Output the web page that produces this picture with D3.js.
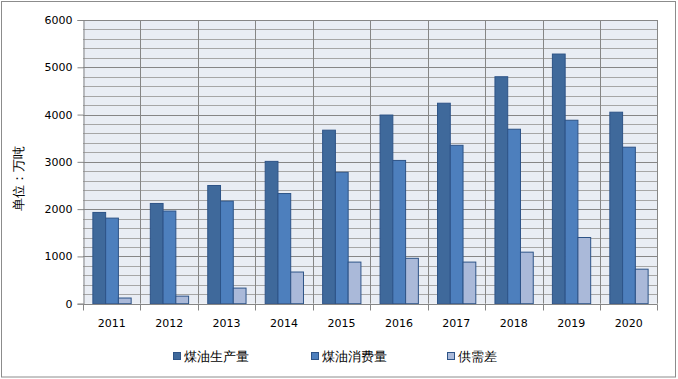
<!DOCTYPE html>
<html><head><meta charset="utf-8">
<script src="https://cdn.jsdelivr.net/npm/d3@7"></script>
<style>
html,body{margin:0;padding:0;background:#fff;}
svg{display:block;}
text{font-family:"DejaVu Sans",Verdana,sans-serif;}
</style></head>
<body>
<script>
const categories = ["2011","2012","2013","2014","2015","2016","2017","2018","2019","2020"];
const seriesNames = ["煤油生产量","煤油消费量","供需差"];
const production = [1930,2120,2500,3010,3670,3990,4240,4800,5280,4050];
const consumption = [1810,1960,2170,2330,2780,3030,3350,3690,3880,3310];
const gap = [120,160,330,670,880,960,880,1090,1400,730];
const yTicks = [0,1000,2000,3000,4000,5000,6000];
const yTitle = "单位：万吨";
const colors = ["#3F699B","#4D7FBD","#AAB9D9"];

const W = 678, H = 379;
const m = {left:83, right:678-657.4, top:20, bottom:379-303.7};
const svg = d3.select("body").append("svg").attr("width",W).attr("height",H);

svg.append("rect").attr("x",1.5).attr("y",1.5).attr("width",W-4).attr("height",H-3.5)
  .attr("fill","#fff").attr("stroke","#8C8C8C").attr("stroke-width",1);

const x0 = d3.scaleBand().domain(categories).range([m.left, W-m.right]).padding(0);
const bw = x0.bandwidth();
const gw = bw*3/4.5;
const x1 = d3.scaleBand().domain(d3.range(3)).range([(bw-gw)/2+0.3, (bw-gw)/2+0.3+gw]).padding(0);
const y = d3.scaleLinear().domain([0,6000]).range([H-m.bottom, m.top]);

const g = svg.append("g");
g.append("rect").attr("x",m.left).attr("y",m.top).attr("width",W-m.left-m.right).attr("height",y(0)-m.top).attr("fill","#E9EDF4");

// minor gridlines
const minor = d3.range(200,6000,200).filter(v=>v%1000!==0);
g.selectAll(".minor").data(minor).join("line")
  .attr("x1",m.left).attr("x2",W-m.right).attr("y1",d=>Math.round(y(d))+0.5).attr("y2",d=>Math.round(y(d))+0.5)
  .attr("stroke","#A6A6A6").attr("stroke-width",1);
// major gridlines
g.selectAll(".major").data(yTicks.slice(1)).join("line")
  .attr("x1",m.left).attr("x2",W-m.right).attr("y1",d=>Math.round(y(d))+0.5).attr("y2",d=>Math.round(y(d))+0.5)
  .attr("stroke","#868686").attr("stroke-width",1);
// vertical gridlines
const vlines = categories.map(c=>x0(c)).slice(1).concat([W-m.right]);
g.selectAll(".vg").data(vlines).join("line")
  .attr("x1",d=>Math.round(d)+0.5).attr("x2",d=>Math.round(d)+0.5).attr("y1",m.top).attr("y2",y(0))
  .attr("stroke","#868686").attr("stroke-width",1);

// bars
const data = [production, consumption, gap];
categories.forEach((c,i)=>{
  data.forEach((s,j)=>{
    g.append("rect")
      .attr("x", x0(c)+x1(j))
      .attr("y", y(s[i]))
      .attr("width", x1.bandwidth())
      .attr("height", y(0)-y(s[i]))
      .attr("fill", colors[j]).attr("stroke","#2D5387").attr("stroke-width",1);
  });
});

// y axis
const yAxis = d3.axisLeft(y).tickValues(yTicks).tickSize(6).tickPadding(5).tickFormat(d3.format("d"));
const ya = svg.append("g").attr("transform",`translate(${m.left+0.5},0)`).call(yAxis);
ya.select(".domain").attr("stroke","#868686");
ya.selectAll(".tick line").attr("stroke","#868686");
ya.selectAll("text").attr("font-size",11).attr("fill","#000").attr("font-family","DejaVu Sans");

// x axis
const xAxis = d3.axisBottom(x0).tickSize(0).tickPadding(0);
const xa = svg.append("g").attr("transform",`translate(0,${Math.round(y(0))+0.5})`).call(xAxis);
xa.select(".domain").attr("stroke","#868686").attr("d",`M${m.left},0H${W-m.right}`);
xa.selectAll(".tick text").attr("font-size",11).attr("fill","#000").attr("dy",null).attr("y",22);
xa.selectAll(".bt").data(categories.map(c=>x0(c)).concat([W-m.right])).join("line")
  .attr("x1",d=>Math.round(d)+0.5).attr("x2",d=>Math.round(d)+0.5).attr("y1",0).attr("y2",6).attr("stroke","#868686");

// y title
svg.append("text").attr("transform","translate(23,178) rotate(-90)").attr("text-anchor","middle")
  .attr("font-size",13).attr("fill","#000").attr("font-family","Noto Sans CJK SC").text(yTitle);

// legend
const legX = [173, 311, 447];
seriesNames.forEach((n,j)=>{
  svg.append("rect").attr("x",legX[j]+0.5).attr("y",352.5).attr("width",7).attr("height",7)
    .attr("fill",colors[j]).attr("stroke","#2D5387");
  svg.append("text").attr("x",legX[j]+11).attr("y",361).attr("font-size",13)
    .attr("fill","#000").attr("font-family","Noto Sans CJK SC").text(n);
});
</script>
</body></html>
